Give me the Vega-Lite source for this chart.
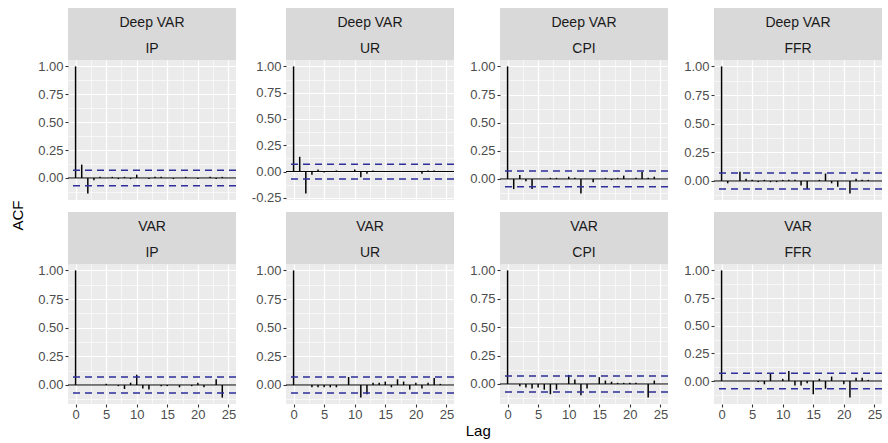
{
  "$schema": "https://vega.github.io/schema/vega-lite/v6.json",
  "padding": {"top": 8, "left": 10, "right": 0, "bottom": 4},
  "title": {"text": "ACF", "orient": "left", "anchor": "middle", "font": "Liberation Sans", "fontSize": 15, "fontWeight": "normal", "color": "#000000", "offset": 12, "dx": 8},
  "datasets": {
    "zero": [{"acf": 0}],
    "bounds": [{"acf": 0.07}, {"acf": -0.07}],
    "acf": [
      {"model":"Deep VAR","series":"IP","lag":0,"acf":1},{"model":"Deep VAR","series":"IP","lag":1,"acf":0.12},{"model":"Deep VAR","series":"IP","lag":2,"acf":-0.14},{"model":"Deep VAR","series":"IP","lag":3,"acf":-0.02},{"model":"Deep VAR","series":"IP","lag":4,"acf":0.01},{"model":"Deep VAR","series":"IP","lag":5,"acf":0.0},{"model":"Deep VAR","series":"IP","lag":6,"acf":0.01},{"model":"Deep VAR","series":"IP","lag":7,"acf":-0.01},{"model":"Deep VAR","series":"IP","lag":8,"acf":0.01},{"model":"Deep VAR","series":"IP","lag":9,"acf":-0.01},{"model":"Deep VAR","series":"IP","lag":10,"acf":0.03},{"model":"Deep VAR","series":"IP","lag":11,"acf":0.0},{"model":"Deep VAR","series":"IP","lag":12,"acf":-0.01},{"model":"Deep VAR","series":"IP","lag":13,"acf":0.01},{"model":"Deep VAR","series":"IP","lag":14,"acf":0.01},{"model":"Deep VAR","series":"IP","lag":15,"acf":0.0},{"model":"Deep VAR","series":"IP","lag":16,"acf":-0.01},{"model":"Deep VAR","series":"IP","lag":17,"acf":0.0},{"model":"Deep VAR","series":"IP","lag":18,"acf":0.01},{"model":"Deep VAR","series":"IP","lag":19,"acf":0.0},{"model":"Deep VAR","series":"IP","lag":20,"acf":-0.01},{"model":"Deep VAR","series":"IP","lag":21,"acf":0.0},{"model":"Deep VAR","series":"IP","lag":22,"acf":0.01},{"model":"Deep VAR","series":"IP","lag":23,"acf":-0.01},{"model":"Deep VAR","series":"IP","lag":24,"acf":0.01},{"model":"Deep VAR","series":"IP","lag":25,"acf":0.0},
      {"model":"Deep VAR","series":"UR","lag":0,"acf":1},{"model":"Deep VAR","series":"UR","lag":1,"acf":0.14},{"model":"Deep VAR","series":"UR","lag":2,"acf":-0.21},{"model":"Deep VAR","series":"UR","lag":3,"acf":-0.03},{"model":"Deep VAR","series":"UR","lag":4,"acf":0.02},{"model":"Deep VAR","series":"UR","lag":5,"acf":-0.01},{"model":"Deep VAR","series":"UR","lag":6,"acf":0.0},{"model":"Deep VAR","series":"UR","lag":7,"acf":0.01},{"model":"Deep VAR","series":"UR","lag":8,"acf":0.0},{"model":"Deep VAR","series":"UR","lag":9,"acf":0.0},{"model":"Deep VAR","series":"UR","lag":10,"acf":0.02},{"model":"Deep VAR","series":"UR","lag":11,"acf":-0.055},{"model":"Deep VAR","series":"UR","lag":12,"acf":-0.02},{"model":"Deep VAR","series":"UR","lag":13,"acf":0.01},{"model":"Deep VAR","series":"UR","lag":14,"acf":0.0},{"model":"Deep VAR","series":"UR","lag":15,"acf":0.0},{"model":"Deep VAR","series":"UR","lag":16,"acf":0.0},{"model":"Deep VAR","series":"UR","lag":17,"acf":0.0},{"model":"Deep VAR","series":"UR","lag":18,"acf":0.0},{"model":"Deep VAR","series":"UR","lag":19,"acf":0.0},{"model":"Deep VAR","series":"UR","lag":20,"acf":0.0},{"model":"Deep VAR","series":"UR","lag":21,"acf":-0.02},{"model":"Deep VAR","series":"UR","lag":22,"acf":0.01},{"model":"Deep VAR","series":"UR","lag":23,"acf":0.01},{"model":"Deep VAR","series":"UR","lag":24,"acf":0.0},{"model":"Deep VAR","series":"UR","lag":25,"acf":0.0},
      {"model":"Deep VAR","series":"CPI","lag":0,"acf":1},{"model":"Deep VAR","series":"CPI","lag":1,"acf":-0.09},{"model":"Deep VAR","series":"CPI","lag":2,"acf":0.035},{"model":"Deep VAR","series":"CPI","lag":3,"acf":-0.02},{"model":"Deep VAR","series":"CPI","lag":4,"acf":-0.09},{"model":"Deep VAR","series":"CPI","lag":5,"acf":0.0},{"model":"Deep VAR","series":"CPI","lag":6,"acf":0.0},{"model":"Deep VAR","series":"CPI","lag":7,"acf":0.01},{"model":"Deep VAR","series":"CPI","lag":8,"acf":0.01},{"model":"Deep VAR","series":"CPI","lag":9,"acf":0.0},{"model":"Deep VAR","series":"CPI","lag":10,"acf":0.02},{"model":"Deep VAR","series":"CPI","lag":11,"acf":0.01},{"model":"Deep VAR","series":"CPI","lag":12,"acf":-0.13},{"model":"Deep VAR","series":"CPI","lag":13,"acf":0.0},{"model":"Deep VAR","series":"CPI","lag":14,"acf":-0.03},{"model":"Deep VAR","series":"CPI","lag":15,"acf":0.0},{"model":"Deep VAR","series":"CPI","lag":16,"acf":0.01},{"model":"Deep VAR","series":"CPI","lag":17,"acf":-0.01},{"model":"Deep VAR","series":"CPI","lag":18,"acf":0.01},{"model":"Deep VAR","series":"CPI","lag":19,"acf":0.03},{"model":"Deep VAR","series":"CPI","lag":20,"acf":0.0},{"model":"Deep VAR","series":"CPI","lag":21,"acf":0.01},{"model":"Deep VAR","series":"CPI","lag":22,"acf":0.065},{"model":"Deep VAR","series":"CPI","lag":23,"acf":0.01},{"model":"Deep VAR","series":"CPI","lag":24,"acf":0.02},{"model":"Deep VAR","series":"CPI","lag":25,"acf":0.0},
      {"model":"Deep VAR","series":"FFR","lag":0,"acf":1},{"model":"Deep VAR","series":"FFR","lag":1,"acf":-0.02},{"model":"Deep VAR","series":"FFR","lag":2,"acf":0.0},{"model":"Deep VAR","series":"FFR","lag":3,"acf":0.08},{"model":"Deep VAR","series":"FFR","lag":4,"acf":0.02},{"model":"Deep VAR","series":"FFR","lag":5,"acf":0.01},{"model":"Deep VAR","series":"FFR","lag":6,"acf":-0.01},{"model":"Deep VAR","series":"FFR","lag":7,"acf":0.01},{"model":"Deep VAR","series":"FFR","lag":8,"acf":-0.01},{"model":"Deep VAR","series":"FFR","lag":9,"acf":-0.01},{"model":"Deep VAR","series":"FFR","lag":10,"acf":0.01},{"model":"Deep VAR","series":"FFR","lag":11,"acf":0.01},{"model":"Deep VAR","series":"FFR","lag":12,"acf":0.01},{"model":"Deep VAR","series":"FFR","lag":13,"acf":-0.04},{"model":"Deep VAR","series":"FFR","lag":14,"acf":-0.07},{"model":"Deep VAR","series":"FFR","lag":15,"acf":0.0},{"model":"Deep VAR","series":"FFR","lag":16,"acf":0.01},{"model":"Deep VAR","series":"FFR","lag":17,"acf":0.065},{"model":"Deep VAR","series":"FFR","lag":18,"acf":-0.02},{"model":"Deep VAR","series":"FFR","lag":19,"acf":-0.05},{"model":"Deep VAR","series":"FFR","lag":20,"acf":0.0},{"model":"Deep VAR","series":"FFR","lag":21,"acf":-0.11},{"model":"Deep VAR","series":"FFR","lag":22,"acf":0.02},{"model":"Deep VAR","series":"FFR","lag":23,"acf":0.01},{"model":"Deep VAR","series":"FFR","lag":24,"acf":0.01},{"model":"Deep VAR","series":"FFR","lag":25,"acf":0.0},
      {"model":"VAR","series":"IP","lag":0,"acf":1},{"model":"VAR","series":"IP","lag":1,"acf":0.0},{"model":"VAR","series":"IP","lag":2,"acf":0.0},{"model":"VAR","series":"IP","lag":3,"acf":0.0},{"model":"VAR","series":"IP","lag":4,"acf":0.0},{"model":"VAR","series":"IP","lag":5,"acf":0.01},{"model":"VAR","series":"IP","lag":6,"acf":0.0},{"model":"VAR","series":"IP","lag":7,"acf":-0.01},{"model":"VAR","series":"IP","lag":8,"acf":-0.035},{"model":"VAR","series":"IP","lag":9,"acf":0.02},{"model":"VAR","series":"IP","lag":10,"acf":0.09},{"model":"VAR","series":"IP","lag":11,"acf":-0.03},{"model":"VAR","series":"IP","lag":12,"acf":-0.04},{"model":"VAR","series":"IP","lag":13,"acf":0.0},{"model":"VAR","series":"IP","lag":14,"acf":-0.01},{"model":"VAR","series":"IP","lag":15,"acf":-0.01},{"model":"VAR","series":"IP","lag":16,"acf":0.0},{"model":"VAR","series":"IP","lag":17,"acf":-0.02},{"model":"VAR","series":"IP","lag":18,"acf":0.0},{"model":"VAR","series":"IP","lag":19,"acf":-0.01},{"model":"VAR","series":"IP","lag":20,"acf":0.02},{"model":"VAR","series":"IP","lag":21,"acf":-0.02},{"model":"VAR","series":"IP","lag":22,"acf":0.0},{"model":"VAR","series":"IP","lag":23,"acf":0.05},{"model":"VAR","series":"IP","lag":24,"acf":-0.11},{"model":"VAR","series":"IP","lag":25,"acf":0.0},
      {"model":"VAR","series":"UR","lag":0,"acf":1},{"model":"VAR","series":"UR","lag":1,"acf":0.0},{"model":"VAR","series":"UR","lag":2,"acf":0.0},{"model":"VAR","series":"UR","lag":3,"acf":-0.02},{"model":"VAR","series":"UR","lag":4,"acf":-0.02},{"model":"VAR","series":"UR","lag":5,"acf":-0.02},{"model":"VAR","series":"UR","lag":6,"acf":-0.02},{"model":"VAR","series":"UR","lag":7,"acf":-0.02},{"model":"VAR","series":"UR","lag":8,"acf":0.0},{"model":"VAR","series":"UR","lag":9,"acf":0.07},{"model":"VAR","series":"UR","lag":10,"acf":0.0},{"model":"VAR","series":"UR","lag":11,"acf":-0.11},{"model":"VAR","series":"UR","lag":12,"acf":-0.08},{"model":"VAR","series":"UR","lag":13,"acf":0.02},{"model":"VAR","series":"UR","lag":14,"acf":0.02},{"model":"VAR","series":"UR","lag":15,"acf":0.03},{"model":"VAR","series":"UR","lag":16,"acf":-0.02},{"model":"VAR","series":"UR","lag":17,"acf":0.05},{"model":"VAR","series":"UR","lag":18,"acf":0.03},{"model":"VAR","series":"UR","lag":19,"acf":-0.04},{"model":"VAR","series":"UR","lag":20,"acf":0.02},{"model":"VAR","series":"UR","lag":21,"acf":-0.03},{"model":"VAR","series":"UR","lag":22,"acf":0.02},{"model":"VAR","series":"UR","lag":23,"acf":0.06},{"model":"VAR","series":"UR","lag":24,"acf":0.01},{"model":"VAR","series":"UR","lag":25,"acf":0.0},
      {"model":"VAR","series":"CPI","lag":0,"acf":1},{"model":"VAR","series":"CPI","lag":1,"acf":0.0},{"model":"VAR","series":"CPI","lag":2,"acf":-0.02},{"model":"VAR","series":"CPI","lag":3,"acf":-0.03},{"model":"VAR","series":"CPI","lag":4,"acf":-0.04},{"model":"VAR","series":"CPI","lag":5,"acf":-0.03},{"model":"VAR","series":"CPI","lag":6,"acf":-0.05},{"model":"VAR","series":"CPI","lag":7,"acf":-0.09},{"model":"VAR","series":"CPI","lag":8,"acf":-0.05},{"model":"VAR","series":"CPI","lag":9,"acf":0.0},{"model":"VAR","series":"CPI","lag":10,"acf":0.08},{"model":"VAR","series":"CPI","lag":11,"acf":0.04},{"model":"VAR","series":"CPI","lag":12,"acf":-0.1},{"model":"VAR","series":"CPI","lag":13,"acf":-0.04},{"model":"VAR","series":"CPI","lag":14,"acf":0.0},{"model":"VAR","series":"CPI","lag":15,"acf":0.06},{"model":"VAR","series":"CPI","lag":16,"acf":0.03},{"model":"VAR","series":"CPI","lag":17,"acf":0.02},{"model":"VAR","series":"CPI","lag":18,"acf":0.01},{"model":"VAR","series":"CPI","lag":19,"acf":0.01},{"model":"VAR","series":"CPI","lag":20,"acf":0.01},{"model":"VAR","series":"CPI","lag":21,"acf":0.01},{"model":"VAR","series":"CPI","lag":22,"acf":0.0},{"model":"VAR","series":"CPI","lag":23,"acf":-0.12},{"model":"VAR","series":"CPI","lag":24,"acf":0.03},{"model":"VAR","series":"CPI","lag":25,"acf":0.0},
      {"model":"VAR","series":"FFR","lag":0,"acf":1},{"model":"VAR","series":"FFR","lag":1,"acf":0.0},{"model":"VAR","series":"FFR","lag":2,"acf":0.0},{"model":"VAR","series":"FFR","lag":3,"acf":0.0},{"model":"VAR","series":"FFR","lag":4,"acf":0.0},{"model":"VAR","series":"FFR","lag":5,"acf":0.0},{"model":"VAR","series":"FFR","lag":6,"acf":-0.01},{"model":"VAR","series":"FFR","lag":7,"acf":-0.03},{"model":"VAR","series":"FFR","lag":8,"acf":0.07},{"model":"VAR","series":"FFR","lag":9,"acf":0.0},{"model":"VAR","series":"FFR","lag":10,"acf":0.02},{"model":"VAR","series":"FFR","lag":11,"acf":0.09},{"model":"VAR","series":"FFR","lag":12,"acf":-0.04},{"model":"VAR","series":"FFR","lag":13,"acf":-0.04},{"model":"VAR","series":"FFR","lag":14,"acf":-0.02},{"model":"VAR","series":"FFR","lag":15,"acf":-0.12},{"model":"VAR","series":"FFR","lag":16,"acf":0.02},{"model":"VAR","series":"FFR","lag":17,"acf":-0.07},{"model":"VAR","series":"FFR","lag":18,"acf":0.04},{"model":"VAR","series":"FFR","lag":19,"acf":0.0},{"model":"VAR","series":"FFR","lag":20,"acf":-0.03},{"model":"VAR","series":"FFR","lag":21,"acf":-0.15},{"model":"VAR","series":"FFR","lag":22,"acf":0.03},{"model":"VAR","series":"FFR","lag":23,"acf":0.03},{"model":"VAR","series":"FFR","lag":24,"acf":0.01},{"model":"VAR","series":"FFR","lag":25,"acf":0.0}
    ]
  },
  "vconcat": [
    {
      "title": {"text": "Lag", "orient": "bottom", "anchor": "middle", "font": "Liberation Sans", "fontSize": 15, "fontWeight": "normal", "color": "#000000", "offset": 3, "dx": 18},
      "columns": 4,
      "spacing": {"row": 7, "column": 14},
      "concat": [
        {"spacing": 0, "vconcat": [
          {"width": 168, "height": 52, "view": {"fill": "#D9D9D9", "stroke": null}, "data": {"values": [{"label": "Deep VAR"}, {"label": "IP"}]}, "mark": {"type": "text", "fontSize": 14, "color": "#1A1A1A", "dy": 2}, "encoding": {"y": {"field": "label", "type": "nominal", "sort": null, "axis": null}, "text": {"field": "label"}}},
          {"width": 168, "height": 140,
           "encoding": {"y": {"field": "acf", "type": "quantitative", "scale": {"padding": 6.4, "nice": false, "zero": false}, "axis": {"title": null, "values": [-0.125, 0, 0.125, 0.25, 0.375, 0.5, 0.625, 0.75, 0.875, 1]}}},
           "layer": [
             {"data": {"name": "zero"}, "mark": {"type": "rule", "color": "#000000", "strokeWidth": 1}, "encoding": {}},
             {"data": {"name": "acf"}, "transform": [{"filter": "datum.model === 'Deep VAR' && datum.series === 'IP'"}], "mark": {"type": "rule", "color": "#000000", "strokeWidth": 1.5}, "encoding": {"x": {"field": "lag", "type": "quantitative", "scale": {"padding": 7.6, "nice": false, "zero": false}, "axis": {"title": null, "values": [0, 2.5, 5, 7.5, 10, 12.5, 15, 17.5, 20, 22.5, 25], "labels": false, "ticks": false}}, "y2": {"datum": 0}}},
             {"data": {"name": "bounds"}, "mark": {"type": "rule", "color": "#2E2E9C", "strokeDash": [7, 5], "strokeWidth": 1.5}, "encoding": {}}
           ]}
        ]},
        {"spacing": 0, "vconcat": [
          {"width": 168, "height": 52, "view": {"fill": "#D9D9D9", "stroke": null}, "data": {"values": [{"label": "Deep VAR"}, {"label": "UR"}]}, "mark": {"type": "text", "fontSize": 14, "color": "#1A1A1A", "dy": 2}, "encoding": {"y": {"field": "label", "type": "nominal", "sort": null, "axis": null}, "text": {"field": "label"}}},
          {"width": 168, "height": 140,
           "encoding": {"y": {"field": "acf", "type": "quantitative", "scale": {"padding": 6.4, "nice": false, "zero": false}, "axis": {"title": null, "values": [-0.25, -0.125, 0, 0.125, 0.25, 0.375, 0.5, 0.625, 0.75, 0.875, 1]}}},
           "layer": [
             {"data": {"name": "zero"}, "mark": {"type": "rule", "color": "#000000", "strokeWidth": 1}, "encoding": {}},
             {"data": {"name": "acf"}, "transform": [{"filter": "datum.model === 'Deep VAR' && datum.series === 'UR'"}], "mark": {"type": "rule", "color": "#000000", "strokeWidth": 1.5}, "encoding": {"x": {"field": "lag", "type": "quantitative", "scale": {"padding": 7.6, "nice": false, "zero": false}, "axis": {"title": null, "values": [0, 2.5, 5, 7.5, 10, 12.5, 15, 17.5, 20, 22.5, 25], "labels": false, "ticks": false}}, "y2": {"datum": 0}}},
             {"data": {"name": "bounds"}, "mark": {"type": "rule", "color": "#2E2E9C", "strokeDash": [7, 5], "strokeWidth": 1.5}, "encoding": {}}
           ]}
        ]},
        {"spacing": 0, "vconcat": [
          {"width": 168, "height": 52, "view": {"fill": "#D9D9D9", "stroke": null}, "data": {"values": [{"label": "Deep VAR"}, {"label": "CPI"}]}, "mark": {"type": "text", "fontSize": 14, "color": "#1A1A1A", "dy": 2}, "encoding": {"y": {"field": "label", "type": "nominal", "sort": null, "axis": null}, "text": {"field": "label"}}},
          {"width": 168, "height": 140,
           "encoding": {"y": {"field": "acf", "type": "quantitative", "scale": {"padding": 6.4, "nice": false, "zero": false}, "axis": {"title": null, "values": [-0.125, 0, 0.125, 0.25, 0.375, 0.5, 0.625, 0.75, 0.875, 1]}}},
           "layer": [
             {"data": {"name": "zero"}, "mark": {"type": "rule", "color": "#000000", "strokeWidth": 1}, "encoding": {}},
             {"data": {"name": "acf"}, "transform": [{"filter": "datum.model === 'Deep VAR' && datum.series === 'CPI'"}], "mark": {"type": "rule", "color": "#000000", "strokeWidth": 1.5}, "encoding": {"x": {"field": "lag", "type": "quantitative", "scale": {"padding": 7.6, "nice": false, "zero": false}, "axis": {"title": null, "values": [0, 2.5, 5, 7.5, 10, 12.5, 15, 17.5, 20, 22.5, 25], "labels": false, "ticks": false}}, "y2": {"datum": 0}}},
             {"data": {"name": "bounds"}, "mark": {"type": "rule", "color": "#2E2E9C", "strokeDash": [7, 5], "strokeWidth": 1.5}, "encoding": {}}
           ]}
        ]},
        {"spacing": 0, "vconcat": [
          {"width": 168, "height": 52, "view": {"fill": "#D9D9D9", "stroke": null}, "data": {"values": [{"label": "Deep VAR"}, {"label": "FFR"}]}, "mark": {"type": "text", "fontSize": 14, "color": "#1A1A1A", "dy": 2}, "encoding": {"y": {"field": "label", "type": "nominal", "sort": null, "axis": null}, "text": {"field": "label"}}},
          {"width": 168, "height": 140,
           "encoding": {"y": {"field": "acf", "type": "quantitative", "scale": {"padding": 6.4, "nice": false, "zero": false}, "axis": {"title": null, "values": [-0.125, 0, 0.125, 0.25, 0.375, 0.5, 0.625, 0.75, 0.875, 1]}}},
           "layer": [
             {"data": {"name": "zero"}, "mark": {"type": "rule", "color": "#000000", "strokeWidth": 1}, "encoding": {}},
             {"data": {"name": "acf"}, "transform": [{"filter": "datum.model === 'Deep VAR' && datum.series === 'FFR'"}], "mark": {"type": "rule", "color": "#000000", "strokeWidth": 1.5}, "encoding": {"x": {"field": "lag", "type": "quantitative", "scale": {"padding": 7.6, "nice": false, "zero": false}, "axis": {"title": null, "values": [0, 2.5, 5, 7.5, 10, 12.5, 15, 17.5, 20, 22.5, 25], "labels": false, "ticks": false}}, "y2": {"datum": 0}}},
             {"data": {"name": "bounds"}, "mark": {"type": "rule", "color": "#2E2E9C", "strokeDash": [7, 5], "strokeWidth": 1.5}, "encoding": {}}
           ]}
        ]},
        {"spacing": 0, "vconcat": [
          {"width": 168, "height": 52, "view": {"fill": "#D9D9D9", "stroke": null}, "data": {"values": [{"label": "VAR"}, {"label": "IP"}]}, "mark": {"type": "text", "fontSize": 14, "color": "#1A1A1A", "dy": 2}, "encoding": {"y": {"field": "label", "type": "nominal", "sort": null, "axis": null}, "text": {"field": "label"}}},
          {"width": 168, "height": 140,
           "encoding": {"y": {"field": "acf", "type": "quantitative", "scale": {"padding": 6.4, "nice": false, "zero": false}, "axis": {"title": null, "values": [-0.125, 0, 0.125, 0.25, 0.375, 0.5, 0.625, 0.75, 0.875, 1]}}},
           "layer": [
             {"data": {"name": "zero"}, "mark": {"type": "rule", "color": "#000000", "strokeWidth": 1}, "encoding": {}},
             {"data": {"name": "acf"}, "transform": [{"filter": "datum.model === 'VAR' && datum.series === 'IP'"}], "mark": {"type": "rule", "color": "#000000", "strokeWidth": 1.5}, "encoding": {"x": {"field": "lag", "type": "quantitative", "scale": {"padding": 7.6, "nice": false, "zero": false}, "axis": {"title": null, "values": [0, 2.5, 5, 7.5, 10, 12.5, 15, 17.5, 20, 22.5, 25]}}, "y2": {"datum": 0}}},
             {"data": {"name": "bounds"}, "mark": {"type": "rule", "color": "#2E2E9C", "strokeDash": [7, 5], "strokeWidth": 1.5}, "encoding": {}}
           ]}
        ]},
        {"spacing": 0, "vconcat": [
          {"width": 168, "height": 52, "view": {"fill": "#D9D9D9", "stroke": null}, "data": {"values": [{"label": "VAR"}, {"label": "UR"}]}, "mark": {"type": "text", "fontSize": 14, "color": "#1A1A1A", "dy": 2}, "encoding": {"y": {"field": "label", "type": "nominal", "sort": null, "axis": null}, "text": {"field": "label"}}},
          {"width": 168, "height": 140,
           "encoding": {"y": {"field": "acf", "type": "quantitative", "scale": {"padding": 6.4, "nice": false, "zero": false}, "axis": {"title": null, "values": [-0.125, 0, 0.125, 0.25, 0.375, 0.5, 0.625, 0.75, 0.875, 1]}}},
           "layer": [
             {"data": {"name": "zero"}, "mark": {"type": "rule", "color": "#000000", "strokeWidth": 1}, "encoding": {}},
             {"data": {"name": "acf"}, "transform": [{"filter": "datum.model === 'VAR' && datum.series === 'UR'"}], "mark": {"type": "rule", "color": "#000000", "strokeWidth": 1.5}, "encoding": {"x": {"field": "lag", "type": "quantitative", "scale": {"padding": 7.6, "nice": false, "zero": false}, "axis": {"title": null, "values": [0, 2.5, 5, 7.5, 10, 12.5, 15, 17.5, 20, 22.5, 25]}}, "y2": {"datum": 0}}},
             {"data": {"name": "bounds"}, "mark": {"type": "rule", "color": "#2E2E9C", "strokeDash": [7, 5], "strokeWidth": 1.5}, "encoding": {}}
           ]}
        ]},
        {"spacing": 0, "vconcat": [
          {"width": 168, "height": 52, "view": {"fill": "#D9D9D9", "stroke": null}, "data": {"values": [{"label": "VAR"}, {"label": "CPI"}]}, "mark": {"type": "text", "fontSize": 14, "color": "#1A1A1A", "dy": 2}, "encoding": {"y": {"field": "label", "type": "nominal", "sort": null, "axis": null}, "text": {"field": "label"}}},
          {"width": 168, "height": 140,
           "encoding": {"y": {"field": "acf", "type": "quantitative", "scale": {"padding": 6.4, "nice": false, "zero": false}, "axis": {"title": null, "values": [-0.125, 0, 0.125, 0.25, 0.375, 0.5, 0.625, 0.75, 0.875, 1]}}},
           "layer": [
             {"data": {"name": "zero"}, "mark": {"type": "rule", "color": "#000000", "strokeWidth": 1}, "encoding": {}},
             {"data": {"name": "acf"}, "transform": [{"filter": "datum.model === 'VAR' && datum.series === 'CPI'"}], "mark": {"type": "rule", "color": "#000000", "strokeWidth": 1.5}, "encoding": {"x": {"field": "lag", "type": "quantitative", "scale": {"padding": 7.6, "nice": false, "zero": false}, "axis": {"title": null, "values": [0, 2.5, 5, 7.5, 10, 12.5, 15, 17.5, 20, 22.5, 25]}}, "y2": {"datum": 0}}},
             {"data": {"name": "bounds"}, "mark": {"type": "rule", "color": "#2E2E9C", "strokeDash": [7, 5], "strokeWidth": 1.5}, "encoding": {}}
           ]}
        ]},
        {"spacing": 0, "vconcat": [
          {"width": 168, "height": 52, "view": {"fill": "#D9D9D9", "stroke": null}, "data": {"values": [{"label": "VAR"}, {"label": "FFR"}]}, "mark": {"type": "text", "fontSize": 14, "color": "#1A1A1A", "dy": 2}, "encoding": {"y": {"field": "label", "type": "nominal", "sort": null, "axis": null}, "text": {"field": "label"}}},
          {"width": 168, "height": 140,
           "encoding": {"y": {"field": "acf", "type": "quantitative", "scale": {"padding": 6.4, "nice": false, "zero": false}, "axis": {"title": null, "values": [-0.125, 0, 0.125, 0.25, 0.375, 0.5, 0.625, 0.75, 0.875, 1]}}},
           "layer": [
             {"data": {"name": "zero"}, "mark": {"type": "rule", "color": "#000000", "strokeWidth": 1}, "encoding": {}},
             {"data": {"name": "acf"}, "transform": [{"filter": "datum.model === 'VAR' && datum.series === 'FFR'"}], "mark": {"type": "rule", "color": "#000000", "strokeWidth": 1.5}, "encoding": {"x": {"field": "lag", "type": "quantitative", "scale": {"padding": 7.6, "nice": false, "zero": false}, "axis": {"title": null, "values": [0, 2.5, 5, 7.5, 10, 12.5, 15, 17.5, 20, 22.5, 25]}}, "y2": {"datum": 0}}},
             {"data": {"name": "bounds"}, "mark": {"type": "rule", "color": "#2E2E9C", "strokeDash": [7, 5], "strokeWidth": 1.5}, "encoding": {}}
           ]}
        ]}
      ]
    }
  ],
  "config": {
    "font": "Liberation Sans",
    "view": {"fill": "#EBEBEB", "stroke": null},
    "axis": {
      "domain": false,
      "gridColor": "#FFFFFF",
      "tickColor": "#333333",
      "tickSize": 3,
      "tickWidth": 1.1,
      "labelColor": "#4D4D4D",
      "labelFont": "Liberation Sans",
      "labelFontSize": 13,
      "labelPadding": 2
    },
    "axisX": {
      "labelPadding": 1,
      "gridWidth": {"condition": {"test": "datum.value % 5 !== 0", "value": 0.6}, "value": 1.2},
      "tickOpacity": {"condition": {"test": "datum.value % 5 !== 0", "value": 0}, "value": 1},
      "labelExpr": "datum.value % 5 === 0 ? '' + datum.value : ''"
    },
    "axisY": {
      "gridWidth": {"condition": {"test": "datum.value % 0.25 !== 0", "value": 0.6}, "value": 1.2},
      "tickOpacity": {"condition": {"test": "datum.value % 0.25 !== 0", "value": 0}, "value": 1},
      "labelExpr": "datum.value % 0.25 === 0 ? (datum.value < 0 ? '-' : '') + format(abs(datum.value), '.2f') : ''"
    }
  }
}
